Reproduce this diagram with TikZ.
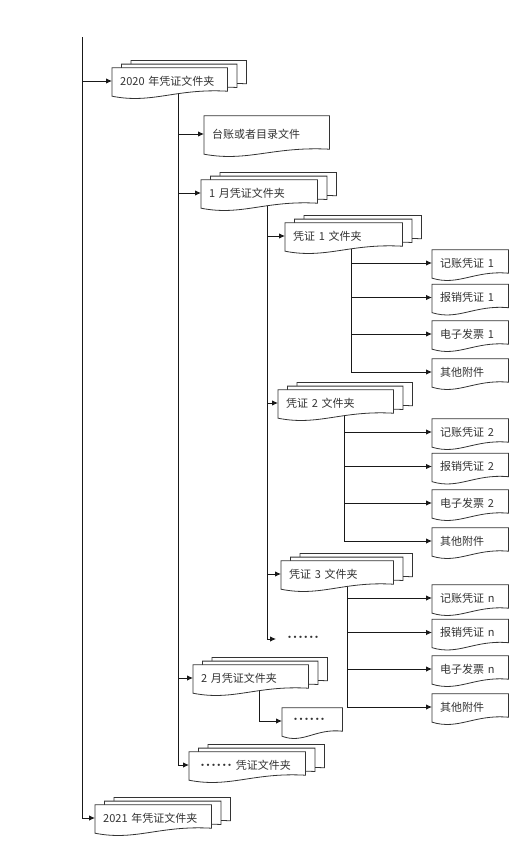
\documentclass[tikz,border=0pt]{standalone}
\usepackage{fontspec}
\setmainfont{Noto Sans CJK SC}
\usetikzlibrary{arrows.meta, calc, backgrounds}

% 文档形状（波浪底边），#2/#3 为偏移
\newcommand{\docpath}[3]{%
  ($(#1.north west)+(#2,#3)$) -- ($(#1.north east)+(#2,#3)$) -- ($(#1.south east)+(#2,#3-3)$)
  .. controls ($(#1.south west)!.55!(#1.south east)+(#2,#3-6)$) and ($(#1.south west)!.35!(#1.south east)+(#2,#3+10)$)
  .. ($(#1.south west)+(#2,#3+2)$) -- cycle}
% 省略号
\newcommand{\sixdots}{·\kern-5.6pt·\kern-5.6pt·\kern-5.6pt·\kern-5.6pt·\kern-5.6pt·\kern-3pt}

\tikzset{
  doc/.style={anchor=west, inner xsep=8pt, inner ysep=0pt, minimum height=26pt,
    text width=#1, align=left, text=black!80, font=\fontsize{11pt}{13pt}\selectfont},
  docline/.style={draw=black!80, line width=0.8pt, fill=white},
  arr/.style={draw=black!90, line width=0.9pt, -{Latex[length=6pt,width=5.5pt]}},
}

\begin{document}
\begin{tikzpicture}[x=1pt, y=-1pt]
  \useasboundingbox (0,0) rectangle (522,846);
  % 文件夹
  \node[doc=99pt] (y2020) at (112,81) {2020 年凭证文件夹};
  \node[doc=109pt, minimum height=36pt] (ledger) at (204,134) {台账或者目录文件};
  \node[doc=100pt] (m1) at (201,193) {1 月凭证文件夹};
  \node[doc=101pt] (v1) at (285,236) {凭证 1 文件夹};
  \node[doc=99pt] (v2) at (278,403) {凭证 2 文件夹};
  \node[doc=96pt] (v3) at (281,574) {凭证 3 文件夹};
  \node[anchor=west, inner xsep=8pt, text=black!80, font=\fontsize{11pt}{13pt}\selectfont] (dots1) at (276,639) {\sixdots};
  \node[doc=99pt] (m2) at (193,678) {2 月凭证文件夹};
  \node[doc=44pt] (dots2) at (282,721) {\sixdots};
  \node[doc=100pt] (mx) at (189,765) {\sixdots\ 凭证文件夹};
  \node[doc=100pt] (y2021) at (95,818) {2021 年凭证文件夹};
  % 凭证内容
  \foreach \v/\y/\k in {v1/263/1, v2/432/2, v3/598/n} {
    \foreach \i/\dy/\t in {a/0/记账凭证 \k, b/34.5/报销凭证 \k, c/71/电子发票 \k, d/109/其他附件}
      \node[doc=60pt] (\v\i) at (432,\y+\dy) {\t};
  }
  \begin{pgfonlayer}{background}
    \fill[white] (0,0) rectangle (522,846);
    % 连线
    \coordinate (root) at (82,37);
    \draw[arr] (root) |- (y2020);
    \draw[arr] (root) |- (y2021);
    \foreach \p/\c in {y2020/ledger, y2020/m1, y2020/m2, y2020/mx, m1/v1, m1/v2, m1/v3, m1/dots1, m2/dots2} {
      \draw[arr] ([xshift=66pt, yshift=8pt]\p.south west) |- (\c);
    }
    \foreach \v in {v1, v2, v3} {
      \foreach \i in {a, b, c, d}
        \draw[arr] ([xshift=66pt, yshift=8pt]\v.south west) |- (\v\i);
    }
    % 形状
    \foreach \n in {y2020, m1, v1, v2, v3, m2, mx, y2021} {
      \draw[docline] \docpath{\n}{19}{-7.4};
      \draw[docline] \docpath{\n}{9.5}{-3.7};
      \draw[docline] \docpath{\n}{0}{0};
    }
    \foreach \n in {ledger, dots2, v1a, v1b, v1c, v1d, v2a, v2b, v2c, v2d, v3a, v3b, v3c, v3d} {
      \draw[docline] \docpath{\n}{0}{0};
    }
  \end{pgfonlayer}
\end{tikzpicture}
\end{document}
